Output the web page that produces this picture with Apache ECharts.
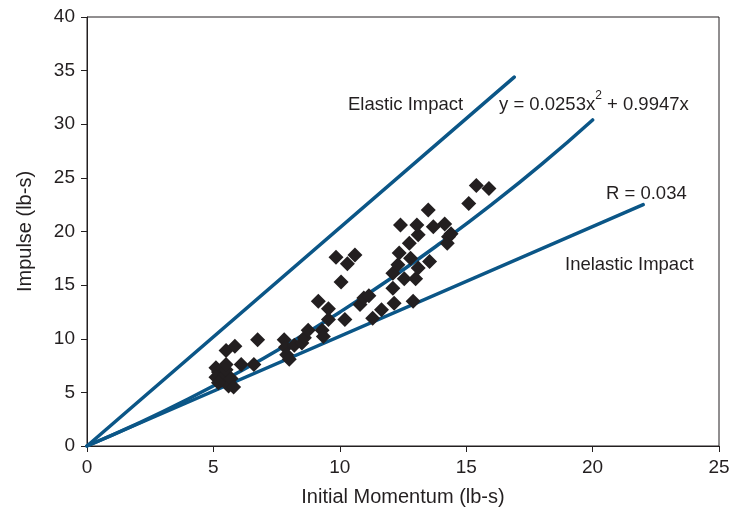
<!DOCTYPE html>
<html>
<head>
<meta charset="utf-8">
<script src="https://cdn.jsdelivr.net/npm/echarts@6/dist/echarts.min.js"></script>
<style>html,body{margin:0;padding:0;background:#fff}#c{width:736px;height:516px}</style>
</head>
<body>
<div id="c"></div>
<script>
// Measured data points: [initial momentum, impulse]
var measured = [
  [5.1,7.3],[5.2,6.9],[5.1,6.4],[5.3,6.1],[5.45,6.6],[5.5,7.1],[5.6,5.6],[5.7,6.3],[5.5,7.6],[5.2,5.9],
  [5.8,5.5],[5.5,8.9],[5.85,9.3],[6.1,7.6],[6.6,7.6],[6.75,9.9],
  [7.8,9.9],[7.85,9.2],[7.9,8.5],[8.0,8.1],[8.2,9.4],[8.5,9.6],[8.6,10.1],[8.75,10.8],
  [9.3,10.8],[9.35,10.2],[9.55,11.8],[9.55,12.8],[9.15,13.5],[10.2,11.8],[10.05,15.3],[9.85,17.6],
  [10.3,17.0],[10.6,17.8],[10.8,13.2],[10.95,13.8],[11.15,14.0],[11.3,11.9],[11.65,12.7],
  [12.15,13.3],[12.9,13.5],[12.1,14.7],[12.1,16.1],[12.55,15.6],[13.0,15.6],[12.3,16.9],[12.35,18.0],
  [12.8,17.5],[13.1,16.6],[13.55,17.2],[12.75,18.9],[13.1,19.7],[12.4,20.6],[13.05,20.6],[13.5,22.0],
  [13.7,20.45],[14.15,20.7],[14.3,19.5],[14.25,18.9],[14.4,19.8],[15.1,22.6],[15.4,24.3],[15.9,24.0]
];
// Elastic impact line
var elasticLine = [[0,0],[16.9,34.4]];
// Inelastic impact line
var inelasticLine = [[0,0],[22,22.5]];
// Fitted curve y = 0.0253x^2 + 0.9947x
var fitX = [0,2,4,6,8,10,12,14,16,18,20];
var fitY = [0,2.09,4.38,6.88,9.58,12.48,15.6,18.95,22.5,26.3,30.4];
var xTicks = [0,5,10,15,20,25];
var yTicks = [0,5,10,15,20,25,30,35,40];

var fitLine = fitX.map(function(x,i){return [x, fitY[i]];});
var ink = '#231f20', blue = '#0b5687';
var font = 'Liberation Sans';

var chart = echarts.init(document.getElementById('c'), null, {renderer:'canvas'});
chart.setOption({
  animation:false,
  backgroundColor:'#fff',
  grid:{left:87,right:17,top:17,bottom:70,show:true,borderColor:ink,borderWidth:1,backgroundColor:'transparent'},
  xAxis:{type:'value',min:xTicks[0],max:xTicks[xTicks.length-1],interval:5,
    name:'Initial Momentum (lb-s)',nameLocation:'middle',nameGap:41,
    nameTextStyle:{fontFamily:font,fontSize:20,color:ink},
    axisLine:{show:true,lineStyle:{color:ink,width:1}},
    axisTick:{show:true,inside:false,length:6,lineStyle:{color:ink}},
    axisLabel:{fontFamily:font,fontSize:19,color:ink,margin:12},
    splitLine:{show:false}},
  yAxis:{type:'value',min:yTicks[0],max:yTicks[yTicks.length-1],interval:5,
    name:'Impulse (lb-s)',nameLocation:'middle',nameGap:52,nameRotate:90,
    nameTextStyle:{fontFamily:font,fontSize:20,color:ink},
    axisLine:{show:true,lineStyle:{color:ink,width:1}},
    axisTick:{show:true,inside:false,length:6,lineStyle:{color:ink}},
    axisLabel:{fontFamily:font,fontSize:19,color:ink,margin:12},
    splitLine:{show:false}},
  series:[
    {type:'line',data:elasticLine,symbol:'none',lineStyle:{color:blue,width:3.5,cap:'round'},z:2},
    {type:'line',data:inelasticLine,symbol:'none',lineStyle:{color:blue,width:3.5,cap:'round'},z:2},
    {type:'line',data:fitLine,symbol:'none',smooth:true,lineStyle:{color:blue,width:3.5,cap:'round'},z:2},
    {type:'scatter',data:measured,symbol:'diamond',symbolSize:15,itemStyle:{color:ink,opacity:1},z:3}
  ],
  graphic:[
    {type:'text',left:348,top:95,style:{text:'Elastic Impact',fontFamily:font,fontSize:18.5,fill:ink}},
    {type:'text',left:499,top:90,style:{
      text:'{a|y = 0.0253x}{s|2}{a| + 0.9947x}',
      rich:{a:{fontFamily:font,fontSize:18.5,fill:ink,color:ink,padding:[9,0,0,0]},
            s:{fontFamily:font,fontSize:12,fill:ink,color:ink,padding:[0,0,9,0]}}}},
    {type:'text',left:606,top:184,style:{text:'R = 0.034',fontFamily:font,fontSize:18.5,fill:ink}},
    {type:'text',left:565,top:255,style:{text:'Inelastic Impact',fontFamily:font,fontSize:18.5,fill:ink}}
  ]
});
</script>
</body>
</html>
